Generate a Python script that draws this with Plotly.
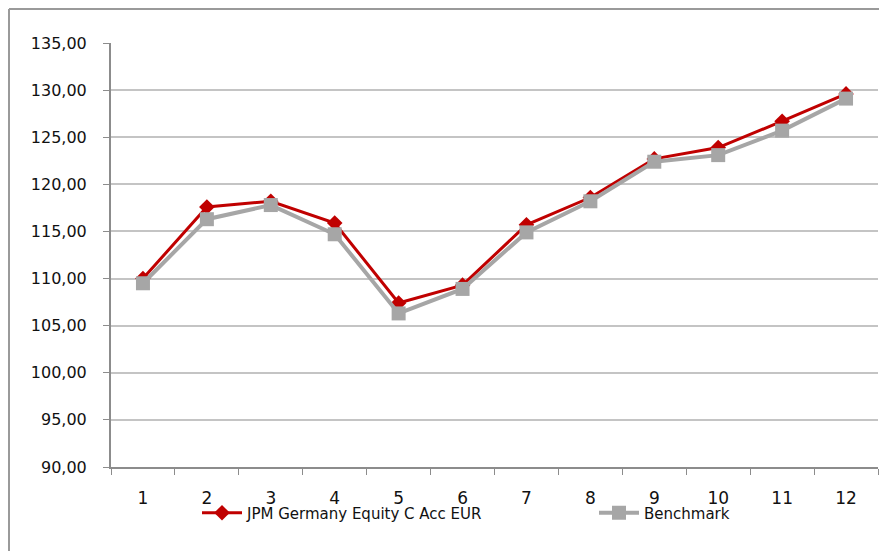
import plotly.graph_objects as go

# Monthly index values
months = ["1", "2", "3", "4", "5", "6", "7", "8", "9", "10", "11", "12"]
fund_values = [110.0, 117.6, 118.2, 115.9, 107.4, 109.3, 115.7, 118.6, 122.7, 123.9, 126.7, 129.6]
benchmark_values = [109.5, 116.3, 117.8, 114.7, 106.3, 108.9, 114.9, 118.2, 122.4, 123.1, 125.7, 129.1]
fund_name = "JPM Germany Equity C Acc EUR"
benchmark_name = "Benchmark"

RED = "#c00000"
GREY = "#a6a6a6"
AXIS = "#8c8c8c"
GRID = "#c4c4c4"
FONT = "DejaVu Sans"

# the page body adds an 8px offset, so the figure is 8px smaller than the window
W, H = 879, 543
L, T, R, B = 103, 35, 9, 84
plot_w, plot_h = W - L - R, H - T - B


def px_x(x):
    return (x - L) / plot_w


def px_y(y):
    return (H - B - y) / plot_h


fig = go.Figure()
fig.add_trace(go.Scatter(
    x=months, y=fund_values, name=fund_name, mode="lines+markers",
    line=dict(color=RED, width=3),
    marker=dict(symbol="diamond", size=12, color=RED),
    legend="legend",
))
fig.add_trace(go.Scatter(
    x=months, y=benchmark_values, name=benchmark_name, mode="lines+markers",
    line=dict(color=GREY, width=4),
    marker=dict(symbol="square", size=14, color=GREY),
    legend="legend2",
))

legend_style = dict(
    orientation="h", yanchor="middle", xanchor="left",
    font=dict(family=FONT, size=15, color="#111111"),
    itemwidth=40, bgcolor="rgba(0,0,0,0)",
)

fig.update_layout(
    width=W, height=H,
    margin=dict(l=L, r=R, t=T, b=B, autoexpand=False),
    paper_bgcolor="white", plot_bgcolor="white",
    separators=",.",
    font=dict(family=FONT, size=15, color="#111111"),
    showlegend=True,
    legend=dict(x=px_x(189), y=px_y(505), **legend_style),
    legend2=dict(x=px_x(586), y=px_y(505), **legend_style),
    xaxis=dict(
        type="category", range=[-0.5, 11.5], tickson="boundaries",
        showline=True, linecolor=AXIS, linewidth=2,
        ticks="outside", ticklen=6, tickcolor=AXIS, tickwidth=1,
        showgrid=False, ticklabelstandoff=15,
        tickfont=dict(family=FONT, size=17),
    ),
    yaxis=dict(
        range=[90, 135], dtick=5, tickformat=".2f",
        showline=True, linecolor=AXIS, linewidth=2,
        ticks="outside", ticklen=6, tickcolor=AXIS, tickwidth=1,
        showgrid=True, gridcolor=GRID, gridwidth=2,
        zeroline=False, ticklabelstandoff=13,
        tickfont=dict(family=FONT, size=16),
    ),
    shapes=[
        dict(type="line", xref="paper", yref="paper",
             x0=px_x(1), x1=px_x(W + 20), y0=px_y(1), y1=px_y(1),
             line=dict(color="#9a9a9a", width=2)),
        dict(type="line", xref="paper", yref="paper",
             x0=px_x(1), x1=px_x(1), y0=px_y(1), y1=px_y(H + 20),
             line=dict(color="#9a9a9a", width=2)),
    ],
)

fig.write_html("out.html")
